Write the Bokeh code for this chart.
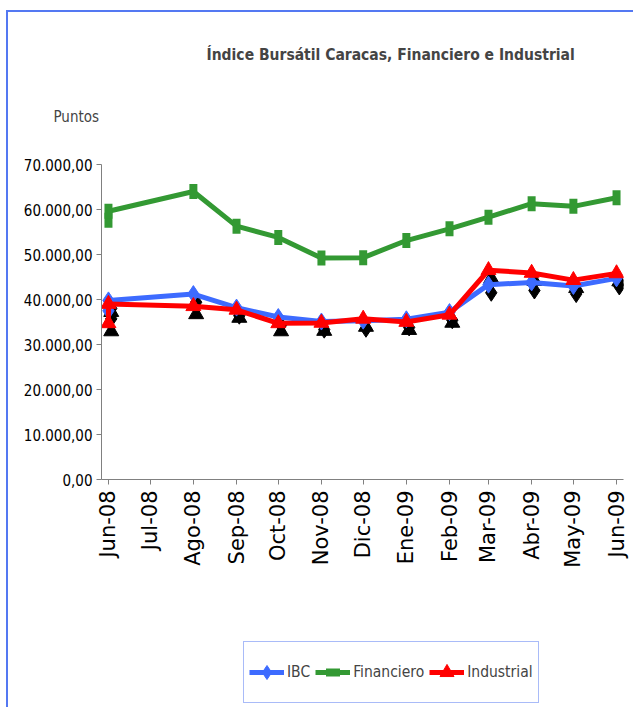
import pandas as pd
from math import pi
from bokeh.plotting import figure
from bokeh.layouts import column
from bokeh.models import Range1d, FixedTicker, Legend, LegendItem, Title, ColumnDataSource
from bokeh.transform import dodge
from bokeh.embed import file_html
from bokeh.resources import INLINE

# ---- data ----
dates = ["2008-06-01", "2008-06-01", "2008-08-01", "2008-09-01", "2008-10-01", "2008-11-01",
         "2008-12-01", "2009-01-01", "2009-02-01", "2009-03-01", "2009-04-01", "2009-05-01",
         "2009-06-01"]
ibc = [37500, 39800, 41200, 38200, 36100, 35100, 35300, 35600, 37200, 43300, 43800, 43000, 44700]
financiero = [57600, 59600, 64000, 56300, 53800, 49200, 49300, 53100, 55700, 58300, 61300, 60700, 62600]
industrial = [34700, 39000, 38500, 37700, 34700, 34800, 35700, 35000, 36600, 46500, 45900, 44300, 45800]

tick_dates = ["2008-06-01", "2008-07-01", "2008-08-01", "2008-09-01", "2008-10-01", "2008-11-01",
              "2008-12-01", "2009-01-01", "2009-02-01", "2009-03-01", "2009-04-01", "2009-05-01",
              "2009-06-01"]
tick_labels = ["Jun-08", "Jul-08", "Ago-08", "Sep-08", "Oct-08", "Nov-08", "Dic-08", "Ene-09",
               "Feb-09", "Mar-09", "Abr-09", "May-09", "Jun-09"]
y_ticks = [0, 10000, 20000, 30000, 40000, 50000, 60000, 70000]
y_tick_labels = ["0,00", "10.000,00", "20.000,00", "30.000,00", "40.000,00", "50.000,00",
                 "60.000,00", "70.000,00"]

# name, values, colour, marker, size, angle, marker line width, shadow
series = [("IBC", ibc, "#3d6bff", "diamond", 17, 0, 1, True),
          ("Financiero", financiero, "#339933", "dash", 15, pi / 2, 8, False),
          ("Industrial", industrial, "#ff0000", "triangle", 15, 0, 1, True)]

# ---- build ----
t0 = pd.Timestamp(dates[0])
xd = [int((pd.Timestamp(d) - t0).days) for d in dates]
xt = [int((pd.Timestamp(d) - t0).days) for d in tick_dates]

FONT = "DejaVu Sans Condensed"
BORDER = "#5478f2"
LEFT, RIGHT = 93, 10

p = figure(width=625, height=620, output_backend="svg", toolbar_location=None, title=None,
           x_range=Range1d(xt[0] - 5, xt[-1] + 5), y_range=Range1d(y_ticks[0], y_ticks[-1]),
           min_border_left=LEFT, min_border_right=RIGHT, min_border_top=152, min_border_bottom=153)
p.outline_line_color = None
p.xgrid.visible = False
p.ygrid.visible = False

p.yaxis.ticker = FixedTicker(ticks=y_ticks)
p.yaxis.major_label_overrides = {t: l for t, l in zip(y_ticks, y_tick_labels)}
p.yaxis.minor_tick_line_color = None
p.yaxis.major_tick_out = 5
p.yaxis.major_tick_in = 0
p.yaxis.axis_line_color = "#808080"
p.yaxis.major_tick_line_color = "#808080"
p.yaxis.major_label_text_font = FONT
p.yaxis.major_label_text_font_size = "15px"
p.yaxis.major_label_text_color = "#000000"
p.yaxis.major_label_standoff = 4

p.xaxis.ticker = FixedTicker(ticks=xt)
p.xaxis.major_label_overrides = {t: l for t, l in zip(xt, tick_labels)}
p.xaxis.minor_tick_line_color = None
p.xaxis.major_tick_out = 5
p.xaxis.major_tick_in = 0
p.xaxis.axis_line_color = "#808080"
p.xaxis.major_tick_line_color = "#808080"
p.xaxis.major_label_orientation = pi / 2
p.xaxis.major_label_text_font = "DejaVu Sans"
p.xaxis.major_label_text_font_size = "21px"
p.xaxis.major_label_text_color = "#000000"
p.xaxis.major_label_standoff = 6

srcs = [ColumnDataSource(dict(x=xd, y=s[1])) for s in series]

for (name, vals, color, marker, size, ang, lw, shadow), src in zip(series, srcs):
    if shadow:
        p.scatter(x=dodge("x", 2, range=p.x_range), y=dodge("y", -1800, range=p.y_range),
                  source=src, marker=marker, size=size, angle=ang, color="#000000")

for (name, vals, color, marker, size, ang, lw, shadow), src in zip(series, srcs):
    p.line("x", "y", source=src, line_color=color, line_width=5)
    p.scatter("x", "y", source=src, marker=marker, size=size, angle=ang,
              fill_color=color, line_color=color, line_width=lw)

p.add_layout(Title(text="Puntos", align="left", offset=-48, standoff=78,
                   text_font=FONT, text_font_size="15px", text_font_style="normal"), "above")
p.add_layout(Title(text="Índice Bursátil Caracas, Financiero e Industrial", align="left",
                   offset=105, standoff=6, text_font=FONT, text_font_size="15.5px",
                   text_font_style="bold"), "above")

# ---- legend strip below the chart (its glyphs lie outside its own ranges) ----
q = figure(width=625, height=75, output_backend="svg", toolbar_location=None,
           x_range=Range1d(-20, -10), y_range=Range1d(-20, -10),
           min_border_left=LEFT, min_border_right=RIGHT, min_border_top=0, min_border_bottom=0)
q.axis.visible = False
q.grid.visible = False
q.outline_line_color = None
items = []
for (name, vals, color, marker, size, ang, lw, shadow), src in zip(series, srcs):
    lr = q.line("x", "y", source=src, line_color=color, line_width=5)
    mr = q.scatter("x", "y", source=src, marker=marker, size=size, angle=ang,
                   fill_color=color, line_color=color, line_width=lw)
    items.append(LegendItem(label=name, renderers=[lr, mr]))
legend = Legend(items=items, orientation="horizontal", location=(142, 4),
                label_text_font=FONT, label_text_font_size="15.5px",
                glyph_width=35, glyph_height=50, padding=5, spacing=5,
                label_standoff=3, margin=0,
                border_line_color=BORDER, border_line_width=1.5,
                background_fill_color="#ffffff")
q.add_layout(legend, "center")

layout = column(p, q, spacing=0)
layout.styles = {"border-top": "2px solid " + BORDER, "border-left": "2px solid " + BORDER,
                 "margin-top": "10px", "margin-left": "6px"}

open("out.html", "w").write(file_html(layout, INLINE))
